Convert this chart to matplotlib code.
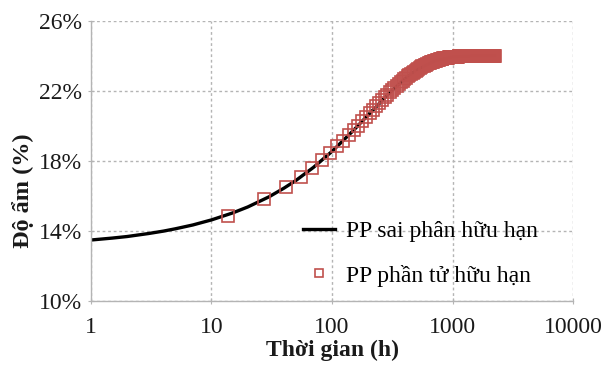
import numpy as np
import matplotlib
matplotlib.use("Agg")
import matplotlib.pyplot as plt

# finite difference solution (line), read at selected times
fdm_time = [1, 1.5, 2, 3, 4, 5, 7, 10, 15, 20, 30, 40, 50, 70, 100, 150,
            200, 300, 400, 500, 700, 1000, 1500, 2233]
fdm_moisture = [13.49, 13.60, 13.69, 13.86, 14.00, 14.13, 14.35, 14.64, 15.04,
                15.38, 15.96, 16.46, 16.89, 17.64, 18.56, 19.75, 20.65, 21.91,
                22.70, 23.20, 23.71, 23.96, 24.02, 24.02]

# finite element solution (squares), one value per time step
fem_step = 13.7  # h
fem_moisture = [
    14.88, 15.82, 16.51, 17.08, 17.59, 18.04, 18.48, 18.86, 19.16, 19.47,
    19.76, 20.03, 20.29, 20.52, 20.74, 20.94, 21.14, 21.31, 21.48, 21.64,
    21.79, 21.93, 22.06, 22.18, 22.29, 22.40, 22.50, 22.60, 22.68, 22.77,
    22.85, 22.92, 22.99, 23.06, 23.12, 23.17, 23.23, 23.28, 23.33, 23.37,
    23.41, 23.45, 23.49, 23.52, 23.56, 23.59, 23.61, 23.64, 23.67, 23.69,
    23.71, 23.73, 23.75, 23.77, 23.79, 23.80, 23.82, 23.83, 23.84, 23.85,
    23.87, 23.88, 23.89, 23.90, 23.90, 23.91, 23.92, 23.93, 23.93, 23.94,
    23.95, 23.95, 23.96, 23.96, 23.96, 23.97, 23.97, 23.98, 23.98, 23.98,
    23.98, 23.99, 23.99, 23.99, 23.99, 24.00, 24.00, 24.00, 24.00, 24.00,
    24.00, 24.00, 24.01, 24.01, 24.01, 24.01, 24.01, 24.01, 24.01, 24.01,
    24.01, 24.01, 24.01, 24.01, 24.01, 24.01, 24.02, 24.02, 24.02, 24.02,
    24.02, 24.02, 24.02, 24.02, 24.02, 24.02, 24.02, 24.02, 24.02, 24.02,
    24.02, 24.02, 24.02, 24.02, 24.02, 24.02, 24.02, 24.02, 24.02, 24.02,
    24.02, 24.02, 24.02, 24.02, 24.02, 24.02, 24.02, 24.02, 24.02, 24.02,
    24.02, 24.02, 24.02, 24.02, 24.02, 24.02, 24.02, 24.02, 24.02, 24.02,
    24.02, 24.02, 24.02, 24.02, 24.02, 24.02, 24.02, 24.02, 24.02, 24.02,
    24.02, 24.02, 24.02,
]
fem_time = fem_step * np.arange(1, len(fem_moisture) + 1)

x_ticks = [1, 10, 100, 1000, 10000]
y_ticks = [10, 14, 18, 22, 26]

plt.rcParams["font.family"] = ["Liberation Serif", "DejaVu Serif"]
GRID = "#b4b4b4"
RED = "#c0504d"
INK = "#1a1a1a"

fig = plt.figure(figsize=(6.06, 3.85), dpi=100)
ax = fig.add_axes([0.150, 0.218, 0.796, 0.727])

ax.plot(fdm_time, fdm_moisture, color="black", lw=2.4, label="PP sai phân hữu hạn", zorder=2)
ax.plot(fem_time, fem_moisture, ls="none", marker="s", ms=8.2, mfc="none",
        mec=RED, mew=1.2, label="PP phần tử hữu hạn", zorder=3)

ax.set_xscale("log")
ax.set_xlim(1, 10000)
ax.set_ylim(10, 26)
ax.set_xticks(x_ticks)
ax.set_xticklabels([str(v) for v in x_ticks])
ax.xaxis.set_minor_locator(matplotlib.ticker.NullLocator())
ax.set_yticks(y_ticks)
ax.set_yticklabels([f"{v}%" for v in y_ticks])

ax.grid(True, color=GRID, ls=(0, (2, 2)), lw=1.0)
for s in ["top", "right"]:
    ax.spines[s].set_visible(False)
for s in ["left", "bottom"]:
    ax.spines[s].set_color(GRID)
    ax.spines[s].set_linewidth(1.0)
ax.tick_params(axis="both", colors=GRID, length=5, direction="inout", labelsize=17,
               labelcolor=INK)
ax.tick_params(axis="x", pad=9)
ax.tick_params(axis="y", pad=4)

ax.set_xlabel("Thời gian (h)", fontsize=17, fontweight="bold", labelpad=1, color=INK)
ax.set_ylabel("Độ ẩm (%)", fontsize=17.5, fontweight="bold", color=INK)
ax.yaxis.set_label_coords(-0.118, 0.393)

ax.legend(loc="upper left", bbox_to_anchor=(291 / 606, 1 - 209 / 385),
          bbox_transform=fig.transFigure, frameon=False, fontsize=17,
          handlelength=1.35, handletextpad=0.5, labelspacing=0.95, borderpad=0,
          markerscale=0.7)

fig.savefig("out.png", dpi=100)
